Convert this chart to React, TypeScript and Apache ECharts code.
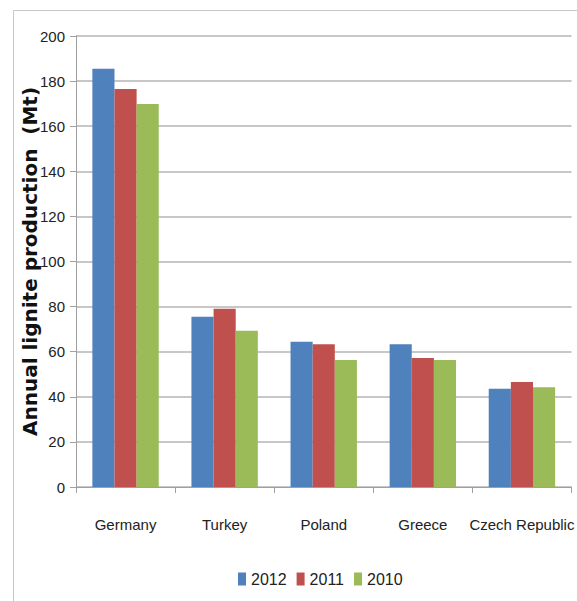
import React, { useEffect, useRef } from "react";
import * as echarts from "echarts";

const categories = ["Germany", "Turkey", "Poland", "Greece", "Czech Republic"];
const seriesNames = ["2012", "2011", "2010"];
const values2012 = [185.5, 75.5, 64.4, 63.3, 43.6];
const values2011 = [176.5, 79, 63.3, 57.2, 46.6];
const values2010 = [169.8, 69.3, 56.3, 56.3, 44.2];
const colors = ["#4F81BD", "#C0504D", "#9BBB59"];
const yTicks = { min: 0, max: 200, interval: 20 };

const FONT = "'Liberation Sans', Arial, sans-serif";

export default function App() {
  const ref = useRef<HTMLDivElement>(null);
  useEffect(() => {
    if (!ref.current) return;
    const chart = echarts.init(ref.current, null, { renderer: "svg" });
    const data = [values2012, values2011, values2010];
    chart.setOption({
      animation: false,
      backgroundColor: "#ffffff",
      graphic: [
        {
          type: "rect",
          shape: { x: 13.5, y: 10.5, width: 700, height: 700 },
          style: { fill: "none", stroke: "#c8c8c8", lineWidth: 1 },
          silent: true,
          z: -10,
        },
      ],
      grid: { left: 76, top: 36, right: 1, bottom: 114, containLabel: false },
      legend: {
        data: seriesNames,
        left: 233,
        top: 566,
        itemWidth: 8,
        itemHeight: 13,
        itemGap: 10,
        icon: "rect",
        textStyle: { fontFamily: FONT, fontSize: 16, color: "#222" },
      },
      xAxis: {
        type: "category",
        data: categories,
        axisLine: { lineStyle: { color: "#a0a0a0", width: 1 } },
        axisTick: { show: true, length: 6, alignWithLabel: false, lineStyle: { color: "#a0a0a0" } },
        axisLabel: { fontFamily: FONT, fontSize: 15, color: "#222", margin: 30, interval: 0 },
      },
      yAxis: {
        type: "value",
        min: yTicks.min,
        max: yTicks.max,
        interval: yTicks.interval,
        name: "Annual lignite production  (Mt)",
        nameLocation: "middle",
        nameGap: 36,
        nameMoveOverlap: false,
        nameTextStyle: {
          fontFamily: "'DejaVu Sans', sans-serif",
          fontWeight: "bold",
          fontSize: 20,
          color: "#111",
          verticalAlign: "bottom",
        },
        axisLine: { show: true, lineStyle: { color: "#a0a0a0", width: 1 } },
        axisTick: { show: true, length: 6, inside: false, lineStyle: { color: "#a0a0a0" } },
        axisLabel: { fontFamily: FONT, fontSize: 15, color: "#222", margin: 11 },
        splitLine: { lineStyle: { color: "#b4b4b4", width: 1.5 } },
      },
      series: seriesNames.map((name, i) => ({
        name,
        type: "bar",
        data: data[i],
        barGap: "0%",
        barCategoryGap: "33%",
        itemStyle: { color: colors[i] },
      })),
    });
    return () => chart.dispose();
  }, []);
  return (
    <div
      ref={ref}
      style={{ position: "absolute", left: 0, top: 0, width: 577, height: 601 }}
    />
  );
}
